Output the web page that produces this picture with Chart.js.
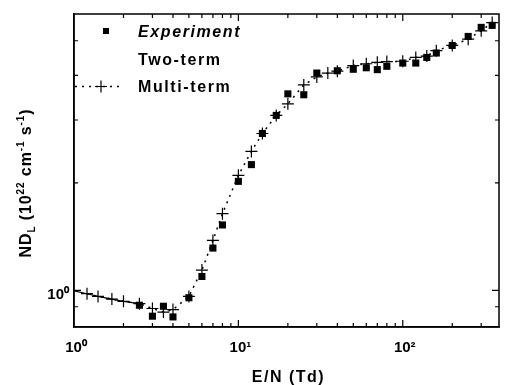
<!DOCTYPE html>
<html>
<head>
<meta charset="utf-8">
<script src="https://cdn.jsdelivr.net/npm/chart.js@4.4.1/dist/chart.umd.min.js"></script>
<style>
  html, body { margin: 0; padding: 0; background: #fff; }
</style>
</head>
<body>
<canvas id="nd-chart" width="511" height="385"></canvas>
<script>
// E/N (Td) and ND_L values
const expE  = [2.5, 3, 3.5, 4, 5, 6, 7, 8, 10, 12, 14, 17, 20, 25, 30, 40, 50, 60, 70, 80, 100, 120, 140, 160, 200, 250, 300, 350];
const expND = [0.909, 0.847, 0.903, 0.843, 0.954, 1.094, 1.314, 1.525, 2.02, 2.25, 2.75, 3.09, 3.55, 3.53, 4.06, 4.12, 4.16, 4.20, 4.15, 4.24, 4.33, 4.33, 4.49, 4.62, 4.85, 5.14, 5.45, 5.52];

const multiE  = [1.2, 1.4, 1.7, 2, 2.5, 3, 3.5, 4, 5, 6, 7, 8, 10, 12, 14, 17, 20, 25, 30, 35, 40, 50, 60, 70, 80, 100, 120, 140, 160, 200, 250, 300, 350];
const multiND = [0.979, 0.962, 0.946, 0.932, 0.918, 0.89, 0.87, 0.884, 0.962, 1.14, 1.38, 1.64, 2.10, 2.45, 2.75, 3.09, 3.33, 3.76, 3.96, 4.06, 4.11, 4.26, 4.31, 4.35, 4.37, 4.38, 4.49, 4.53, 4.69, 4.85, 5.05, 5.33, 5.62];

const twoE  = [1, 1.2, 1.4, 1.7, 2, 2.5];
const twoND = [0.997, 0.979, 0.962, 0.946, 0.932, 0.918];

const xTickLabels = { 1: "10\u2070", 10: "10\u00b9", 100: "10\u00b2" };
const yTickLabels = { 1: "10\u2070" };

const FONT = "'Liberation Sans', Arial, Helvetica, sans-serif";

function pts(xs, ys) {
    return xs.map((x, i) => ({ x: x, y: ys[i] }));
}

function tickLabel(table, v) {
    for (const k in table) {
        if (Math.abs(v - Number(k)) < 1e-6 * Number(k)) return table[k];
    }
    return "";
}

function isNice(v) {
    const m = v / Math.pow(10, Math.floor(Math.log10(v) + 1e-9));
    return Math.abs(m - Math.round(m)) < 1e-6;
}
function isDecade(v) {
    const l = Math.log10(v);
    return Math.abs(l - Math.round(l)) < 1e-6;
}

// inward tick marks on all four sides + frame
const frameTicks = {
    id: "frameTicks",
    afterDatasetsDraw(chart) {
        const ctx = chart.ctx;
        const a = chart.chartArea;
        const xs = chart.scales.x, ys = chart.scales.y;
        ctx.save();
        ctx.strokeStyle = "#000";
        ctx.lineWidth = 1.5;
        ctx.strokeRect(a.left, a.top, a.right - a.left, a.bottom - a.top);
        ctx.lineWidth = 1.2;
        ctx.beginPath();
        xs.ticks.forEach(t => {
            if (!isNice(t.value)) return;
            const len = isDecade(t.value) ? 7 : 4;
            const px = xs.getPixelForValue(t.value);
            if (px <= a.left + 1 || px >= a.right - 1) return;
            ctx.moveTo(px, a.bottom); ctx.lineTo(px, a.bottom - len);
            ctx.moveTo(px, a.top); ctx.lineTo(px, a.top + len);
        });
        ys.ticks.forEach(t => {
            if (!isNice(t.value)) return;
            const len = isDecade(t.value) ? 7 : 4;
            const py = ys.getPixelForValue(t.value);
            if (py <= a.top + 1 || py >= a.bottom - 1) return;
            ctx.moveTo(a.left, py); ctx.lineTo(a.left + len, py);
            ctx.moveTo(a.right, py); ctx.lineTo(a.right - len, py);
        });
        ctx.stroke();
        ctx.restore();
    }
};

// draws a run of text pieces (normal / sub / sup) starting at x, baseline y
function richText(ctx, parts, x, y) {
    let cx = x;
    parts.forEach(p => {
        ctx.font = "bold " + p.s + "px " + FONT;
        ctx.fillText(p.t, cx, y + (p.dy || 0));
        cx += ctx.measureText(p.t).width;
    });
    return cx - x;
}
function richWidth(ctx, parts) {
    let w = 0;
    parts.forEach(p => {
        ctx.font = "bold " + p.s + "px " + FONT;
        w += ctx.measureText(p.t).width;
    });
    return w;
}

const titlesAndLegend = {
    id: "titlesAndLegend",
    afterDraw(chart) {
        const ctx = chart.ctx;
        const a = chart.chartArea;
        ctx.save();
        ctx.fillStyle = "#000";
        ctx.textBaseline = "alphabetic";
        ctx.textAlign = "left";

        // x title
        ctx.letterSpacing = "1.5px";
        const xt = [{ t: "E/N (Td)", s: 16 }];
        const xw = richWidth(ctx, xt);
        richText(ctx, xt, (a.left + a.right) / 2 - xw / 2 + 2, 381.5);

        // y title, rotated
        ctx.letterSpacing = "0.9px";
        const yt = [
            { t: "ND", s: 16 }, { t: "L", s: 10, dy: 4 },
            { t: " (10", s: 16 }, { t: "22", s: 10, dy: -7 },
            { t: " cm", s: 16 }, { t: "-1", s: 10, dy: -7 },
            { t: " s", s: 16 }, { t: "-1", s: 10, dy: -7 },
            { t: ")", s: 16 }
        ];
        const yw = richWidth(ctx, yt);
        ctx.save();
        ctx.translate(31, 183);
        ctx.rotate(-Math.PI / 2);
        richText(ctx, yt, -yw / 2, 0);
        ctx.restore();

        // legend
        ctx.letterSpacing = "1.6px";
        ctx.fillRect(103, 28, 6, 6);
        ctx.font = "italic bold 16px " + FONT;
        ctx.fillText("Experiment", 138, 37);
        ctx.font = "bold 16px " + FONT;
        ctx.fillText("Two-term", 138, 65);
        ctx.fillText("Multi-term", 138, 92);

        ctx.strokeStyle = "#000";
        ctx.lineWidth = 1.5;
        ctx.setLineDash([2, 5]);
        ctx.beginPath();
        ctx.moveTo(75, 86.5); ctx.lineTo(124, 86.5);
        ctx.stroke();
        ctx.setLineDash([]);
        ctx.lineWidth = 1.2;
        ctx.beginPath();
        ctx.moveTo(95, 86.5); ctx.lineTo(107, 86.5);
        ctx.moveTo(101, 80.5); ctx.lineTo(101, 92.5);
        ctx.stroke();
        ctx.restore();
    }
};

new Chart(document.getElementById("nd-chart"), {
    type: "scatter",
    data: {
        datasets: [
            {
                label: "Experiment",
                data: pts(expE, expND),
                showLine: false,
                pointStyle: "rect",
                pointRadius: 5,
                pointBackgroundColor: "#000",
                pointBorderColor: "#000",
                pointBorderWidth: 0
            },
            {
                label: "Two-term",
                data: pts(twoE, twoND),
                showLine: true,
                borderColor: "#000",
                borderWidth: 1.2,
                pointRadius: 0,
                tension: 0
            },
            {
                label: "Multi-term",
                data: pts(multiE, multiND),
                showLine: true,
                borderColor: "#000",
                borderWidth: 1.5,
                borderDash: [2, 5],
                tension: 0,
                pointStyle: "cross",
                pointRadius: 6,
                pointBorderColor: "#000",
                pointBorderWidth: 1.2
            }
        ]
    },
    options: {
        responsive: false,
        animation: false,
        devicePixelRatio: 1,
        layout: {
            padding: { left: 0, right: 2, top: 11.5, bottom: 0 }
        },
        plugins: {
            legend: { display: false },
            tooltip: { enabled: false }
        },
        scales: {
            x: {
                type: "logarithmic",
                position: "bottom",
                min: 1,
                max: 385,
                grid: { display: false, drawTicks: false },
                border: { display: true, color: "#000", width: 1.5 },
                ticks: {
                    autoSkip: false,
                    maxRotation: 0,
                    padding: 12,
                    labelOffset: 2,
                    color: "#000",
                    font: { family: FONT, size: 15, weight: "bold" },
                    callback: v => tickLabel(xTickLabels, v)
                },
                afterFit: s => { s.height = 58; }
            },
            y: {
                type: "logarithmic",
                position: "left",
                min: 0.79,
                max: 5.94,
                grid: { display: false, drawTicks: false },
                border: { display: true, color: "#000", width: 1.5 },
                ticks: {
                    autoSkip: false,
                    padding: 5,
                    labelOffset: 4,
                    color: "#000",
                    font: { family: FONT, size: 15, weight: "bold" },
                    callback: v => tickLabel(yTickLabels, v)
                },
                afterFit: s => { s.width = 74; }
            }
        }
    },
    plugins: [frameTicks, titlesAndLegend]
});
</script>
</body>
</html>
